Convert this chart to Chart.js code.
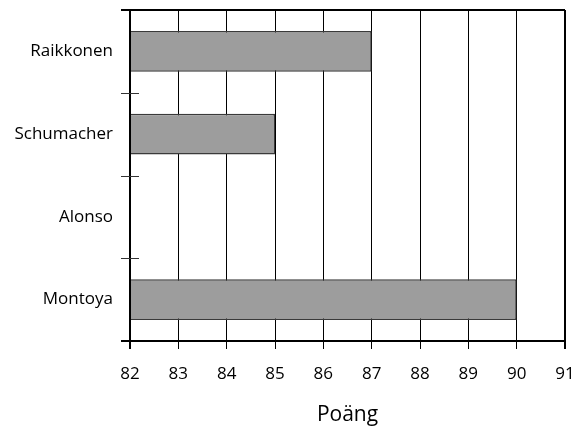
<!DOCTYPE html>
<html>
<head>
<meta charset="utf-8">
<script src="https://cdn.jsdelivr.net/npm/chart.js@4/dist/chart.umd.min.js"></script>
<style>
  html, body { margin: 0; padding: 0; background: #fff; }
  #wrap { width: 573px; height: 428px; }
</style>
</head>
<body>
<div id="wrap"><canvas id="chart" width="573" height="428"></canvas></div>
<script>
// Drivers and their points
const drivers = ["Raikkonen", "Schumacher", "Alonso", "Montoya"];
const points = [87, 85, null, 90];
const xMin = 82;
const xMax = 91;
const axisTitle = "Poäng";

const font = "'Open Sans', 'Noto Sans', sans-serif";

// Frame lines and category ticks crossing the y axis
const framePlugin = {
  id: "frame",
  afterDraw(chart) {
    const { ctx, chartArea } = chart;
    const y = chart.scales.y;
    ctx.save();
    ctx.strokeStyle = "#000";
    ctx.lineWidth = 2;
    ctx.beginPath();
    ctx.moveTo(chartArea.left - 9, chartArea.top);
    ctx.lineTo(chartArea.right, chartArea.top);
    ctx.moveTo(chartArea.right, chartArea.top);
    ctx.lineTo(chartArea.right, chartArea.bottom + 8);
    ctx.moveTo(chartArea.left - 9, chartArea.bottom);
    ctx.lineTo(chartArea.right, chartArea.bottom);
    ctx.moveTo(chartArea.left, chartArea.top);
    ctx.lineTo(chartArea.left, chartArea.bottom + 8);
    ctx.stroke();

    // category boundary ticks
    ctx.strokeStyle = "#333";
    ctx.lineWidth = 1;
    ctx.beginPath();
    for (let i = 0; i < drivers.length - 1; i++) {
      const py = Math.round((y.getPixelForValue(i) + y.getPixelForValue(i + 1)) / 2) + 0.5;
      ctx.moveTo(chartArea.left - 9, py);
      ctx.lineTo(chartArea.left + 9, py);
    }
    ctx.stroke();
    ctx.restore();
  }
};

new Chart(document.getElementById("chart"), {
  type: "bar",
  data: {
    labels: drivers,
    datasets: [{
      data: points,
      base: xMin,
      backgroundColor: "#9d9d9d",
      borderColor: "#3a3a3a",
      borderWidth: 1.5,
      categoryPercentage: 1,
      barPercentage: 0.49
    }]
  },
  options: {
    indexAxis: "y",
    responsive: false,
    animation: false,
    layout: { padding: { top: 10, right: 8, left: 0, bottom: 0 } },
    plugins: { legend: { display: false }, tooltip: { enabled: false } },
    scales: {
      x: {
        min: xMin,
        max: xMax,
        ticks: { stepSize: 1, color: "#000", font: { family: font, size: 17 }, padding: 15 },
        grid: { color: "#000", lineWidth: 1, tickLength: 8 },
        border: { display: false },
        title: {
          display: true,
          text: axisTitle,
          color: "#000",
          font: { family: font, size: 21 },
          padding: { top: 10, bottom: 0 }
        },
        afterFit(scale) {
          scale.height = 87;
          scale.paddingLeft = 0;
          scale.paddingRight = 0;
        }
      },
      y: {
        ticks: { color: "#000", font: { family: font, size: 17 }, padding: 9 },
        grid: { display: false },
        border: { display: false },
        afterFit(scale) {
          scale.width = 130;
          scale.paddingTop = 0;
          scale.paddingBottom = 0;
        }
      }
    }
  },
  plugins: [framePlugin]
});
</script>
</body>
</html>
